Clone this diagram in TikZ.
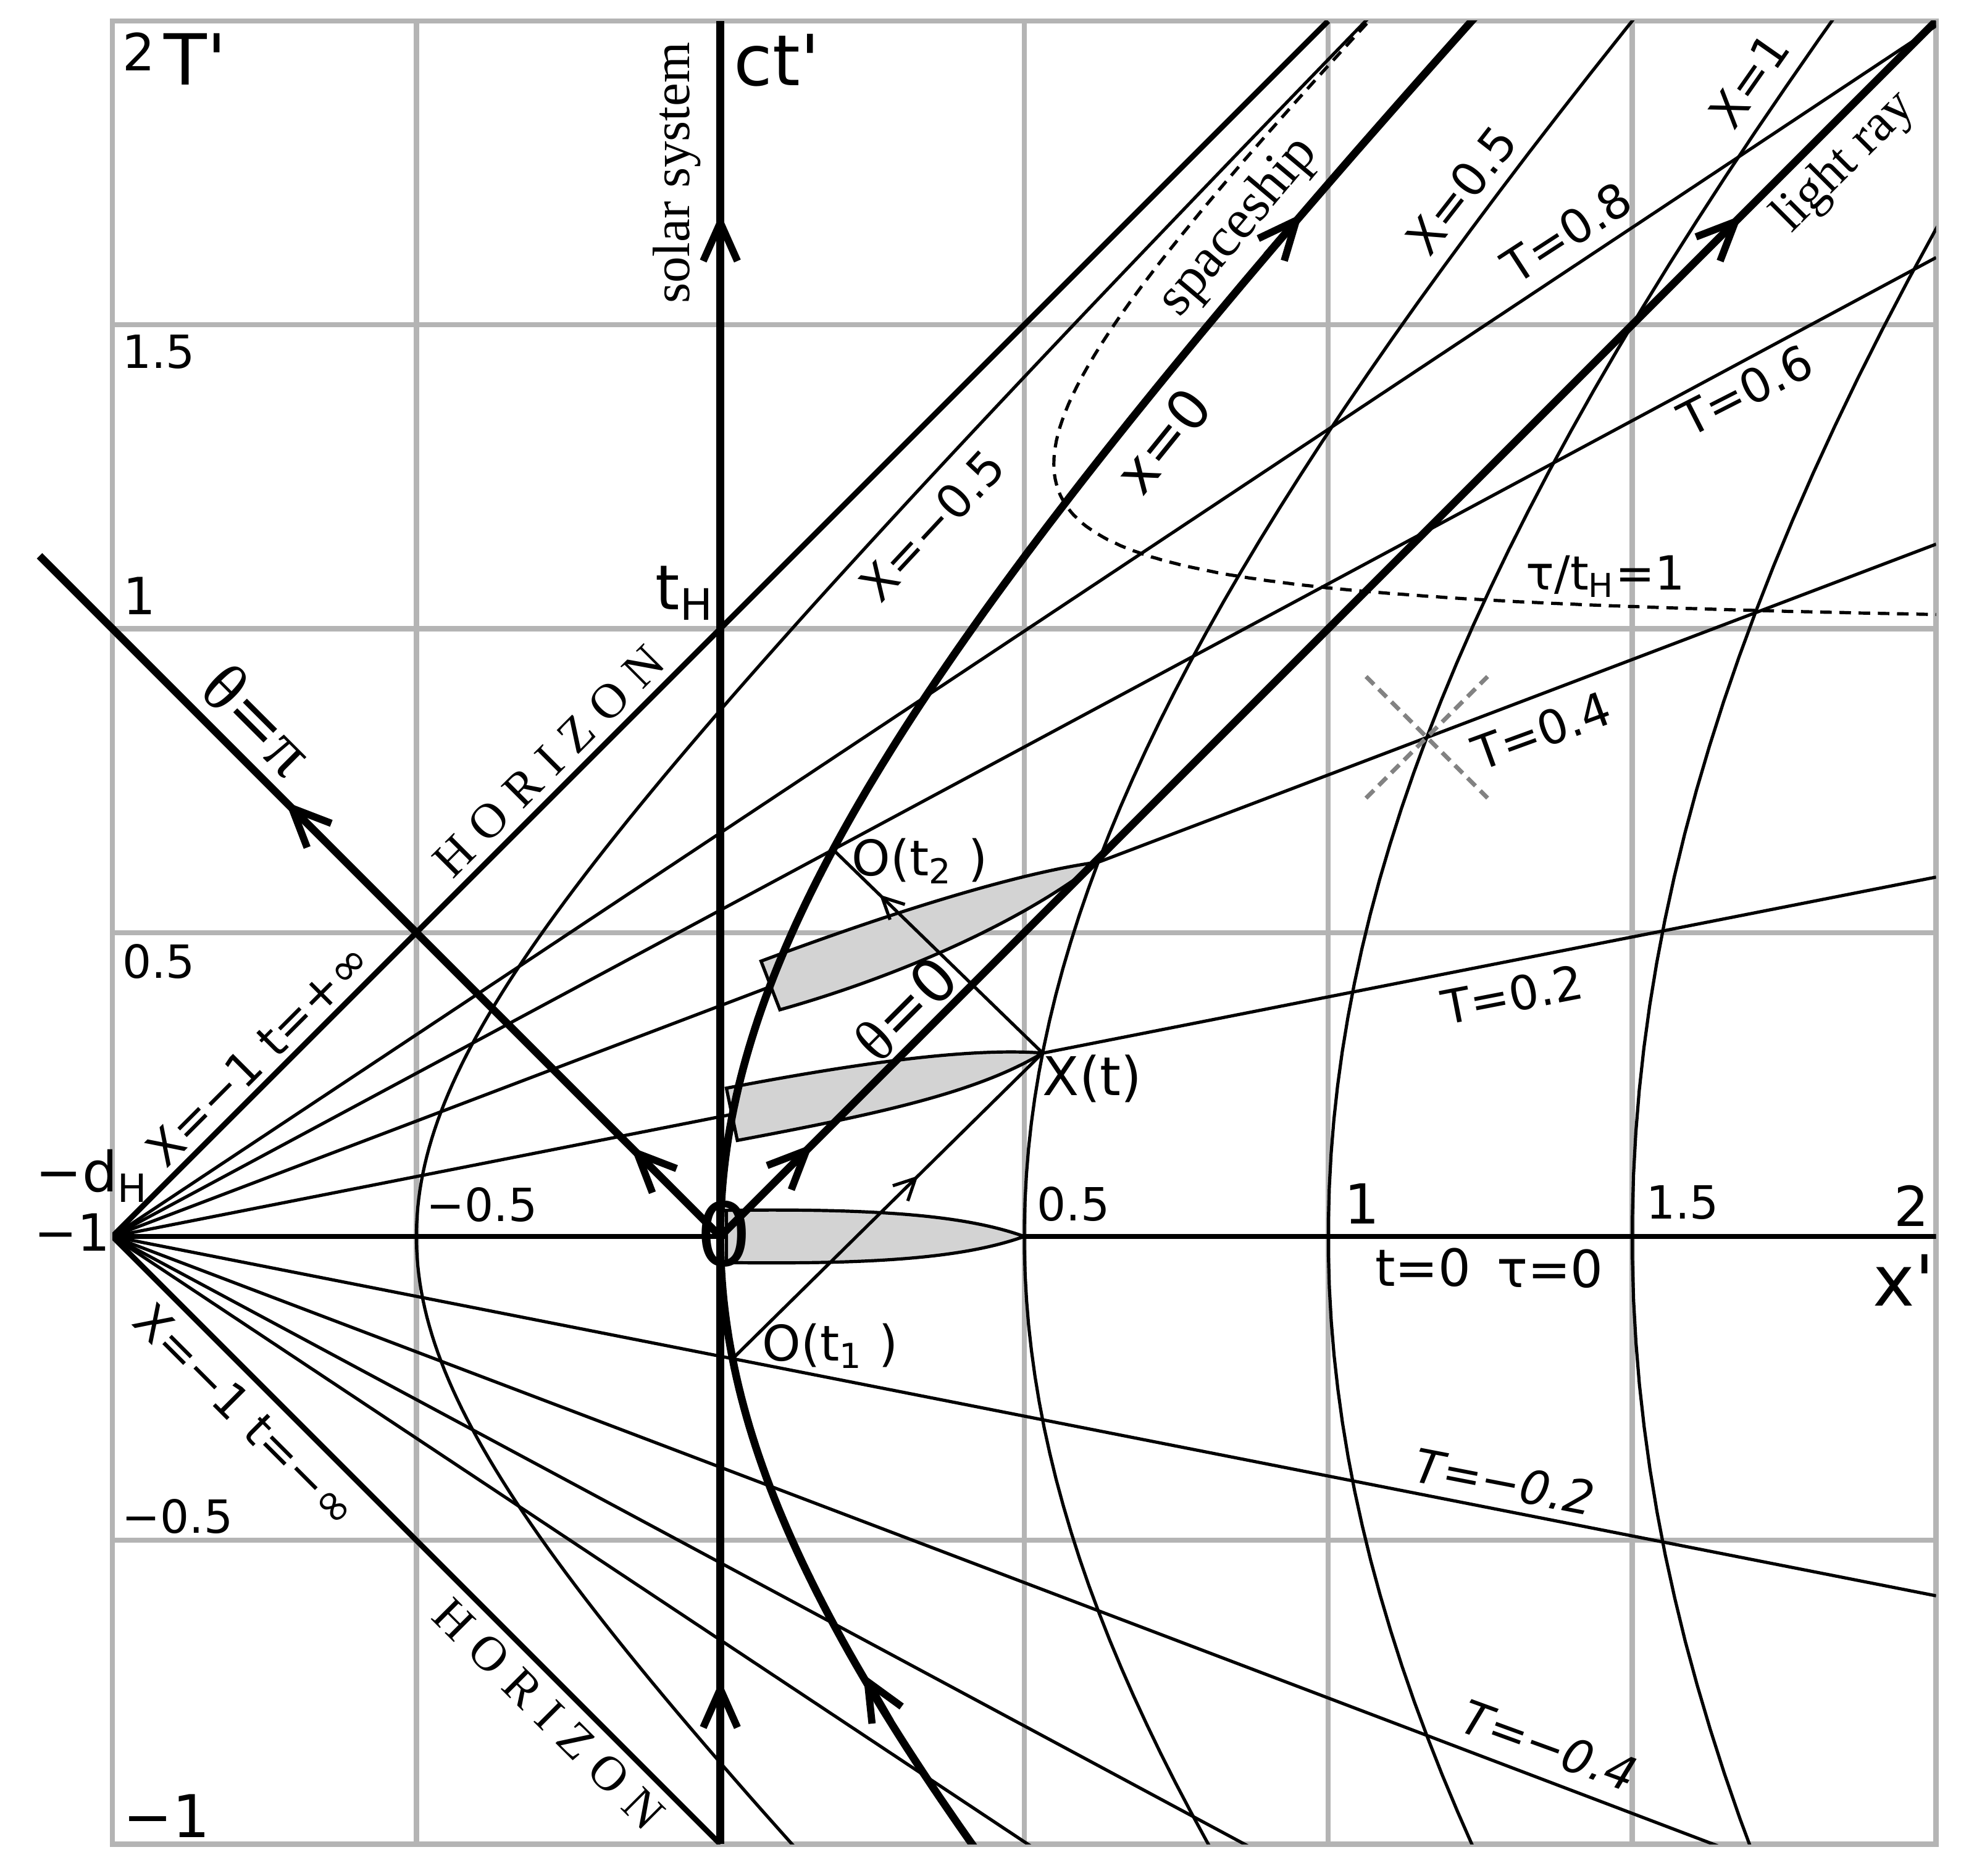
\documentclass[tikz,border=0pt]{standalone}
\usepackage{fontspec}
\setmainfont{DejaVu Sans}
\newfontfamily\seriffont{Liberation Serif}
\newfontfamily\horizonfont[LetterSpace=28]{Liberation Serif}
\usetikzlibrary{arrows.meta,decorations.markings}

\definecolor{gridgray}{RGB}{180,180,180}
\definecolor{lensgray}{RGB}{211,211,211}
\definecolor{conegray}{RGB}{130,130,130}

\newcommand{\pts}[1]{\fontsize{#1}{#1}\selectfont}

\tikzset{
  gridline/.style={gridgray, line width=1.2pt, line cap=rect},
  thinline/.style={line width=0.75pt},
  thickline/.style={line width=1.8pt},
  horizonline/.style={line width=1.3pt},
  bigtip/.style={-{Straight Barb[length=9pt,width=8pt]}, line width=1.7pt},
  smalltip/.style={decoration={markings,
      mark=at position #1 with {\arrow{Straight Barb[length=5pt,width=5pt]}}},
    postaction={decorate}},
  lens/.style={fill=lensgray, draw=black, line width=0.75pt},
  cone/.style={conegray, line width=1pt, dash pattern=on 2.6pt off 1.6pt},
  ticklabel/.style={inner sep=0pt, font=\pts{10.7}},
  biglabel/.style={inner sep=0pt, font=\pts{16.5}},
  rindlerlabel/.style={inner sep=0pt, font=\pts{11}},
  seriflabel/.style={inner sep=0pt, font=\seriffont\pts{12.3}},
}

\begin{document}
\begin{tikzpicture}[x=5cm,y=5cm]
    \useasboundingbox (-1.185,-1.052) rectangle (2.041,2.0345);

    % Draw the grid of the inertial frame
    \draw[gridline] (-1,-1) grid[step=0.5] (2,2);

    \begin{scope}
        \clip (-1,-1) rectangle (2,2);

        % Lines of constant Rindler time T, all through the corner (-1,0)
        \foreach \T in {-0.8,-0.6,-0.4,-0.2,0.2,0.4,0.6,0.8} {
            \draw[thinline] (-1,0) -- (2,{3*tanh(\T)});
        }
        \draw[line width=1.2pt] (-1,0) -- (2,0);

        % The ship at three moments (covers the T lines)
        \coordinate (tipA) at (0.5,0);
        \coordinate (Xt) at ({1.5*cosh(0.2)-1},{1.5*sinh(0.2)});
        \coordinate (tipC) at ({1.5*cosh(0.4)-1},{1.5*sinh(0.4)});
        \draw[lens] (0.01,0.043) .. controls (0.25,0.046) and (0.4,0.036) .. (tipA)
            .. controls (0.4,-0.036) and (0.25,-0.046) .. (0.01,-0.043) -- cycle;
        \draw[lens] (0.010,0.244) .. controls (0.25,0.29) and (0.42,0.31) .. (Xt)
            .. controls (0.42,0.235) and (0.25,0.20) .. (0.028,0.158) -- cycle;
        \draw[lens] (0.067,0.453) .. controls (0.3,0.54) and (0.5,0.60) .. (tipC)
            .. controls (0.5,0.52) and (0.3,0.43) .. (0.098,0.373) -- cycle;

        % Lines of constant X (hyperbolas)
        \foreach \r in {0.5,1.5,2,2.5} {
            \draw[thinline] plot[domain=-2.2:2.2, samples=160] ({\r*cosh(\x)-1},{\r*sinh(\x)});
        }
        % tau/t_H = 1
        \draw[thinline, dash pattern=on 2.7pt off 1.8pt]
            plot[domain=0.44:2.9, samples=200]
            ({\x*cosh((1+0.02/(\x*\x))/\x)-1},{\x*sinh((1+0.02/(\x*\x))/\x)});
        % spaceship x=0
        \draw[thickline] plot[domain=-1:1.5, samples=160] ({cosh(\x)-1},{sinh(\x)});

        % Horizons
        \draw[horizonline] (0,-1) -- (-1,0) -- (1,2);

        % Light ray and solar system
        \draw[thickline] (0,0) -- (2,2);
        \draw[thickline] (0,-1) -- (0,2);

        % Light signals between the ends of the ship
        \coordinate (Ot1) at ({cosh(-0.2)-1},{sinh(-0.2)});
        \coordinate (Ot2) at ({cosh(0.6)-1},{sinh(0.6)});
        \draw[thinline, smalltip=0.6] (Ot1) -- (Xt);
        \draw[thinline, smalltip=0.78] (Xt) -- (Ot2);

        % Light cone at X=1, T=0.4
        \coordinate (cone) at ({2*cosh(0.4)-1},{2*sinh(0.4)});
        \draw[cone] (cone) ++(-0.1,-0.1) -- ++(0.2,0.2);
        \draw[cone] (cone) ++(-0.1,0.1) -- ++(0.2,-0.2);
    \end{scope}

    % Light ray theta = pi
    \draw[thickline] (0,0) -- (-1.12,1.12);

    % Arrows along the world lines
    \draw[bigtip] (0,1.59) -- (0,1.683);
    \draw[bigtip] (0,-0.82) -- (0,-0.730);
    \draw[bigtip] (0.088,0.088) -- (0.152,0.152);
    \draw[bigtip] (1.615,1.615) -- (1.680,1.680);
    \draw[bigtip] (-0.083,0.083) -- (-0.147,0.147);
    \draw[bigtip] (-0.65,0.65) -- (-0.715,0.715);
    \draw[bigtip] (0.280,-0.798) -- (0.235,-0.720);
    \draw[bigtip] (0.898,1.614) -- (0.957,1.683);

    % Axis ticks and names
    \node[ticklabel, font=\pts{12}] (tickTtwo) at (-0.957,1.950) {2};
    \node[biglabel] (axisT) at (-0.864,1.937) {T\textquotesingle};
    \node[ticklabel] (tickTonehalf) at (-0.924,1.455) {1.5};
    \node[ticklabel, font=\pts{12}] (tickTone) at (-0.956,1.054) {1};
    \node[ticklabel] (tickThalf) at (-0.924,0.452) {0.5};
    \node[ticklabel] (tickTmhalf) at (-0.893,-0.461) {−0.5};
    \node[ticklabel, font=\pts{13.8}] (tickTmone) at (-0.911,-0.953) {−1};
    \node[ticklabel, font=\pts{12}] (tickXmone) at (-1.066,0.007) {−1};
    \node[ticklabel, font=\pts{13}] (dH) at (-1.033,0.0995) {−d\textsubscript{H}};
    \node[ticklabel, font=\pts{14.5}] (tH) at (-0.058,1.059) {t\textsubscript{H}};
    \node[biglabel] (axisct) at (0.093,1.935) {ct\textquotesingle};
    \node[biglabel] (axisx) at (1.947,-0.072) {x\textquotesingle};
    \node[ticklabel, font=\pts{20.5}] (origin) at (0.006,0.004) {0};
    \node[ticklabel] (tickXmhalf) at (-0.392,0.052) {−0.5};
    \node[ticklabel] (tickXhalf) at (0.581,0.053) {0.5};
    \node[ticklabel, font=\pts{12.9}] (tickXone) at (1.056,0.054) {1};
    \node[ticklabel] (tickXonehalf) at (1.583,0.056) {1.5};
    \node[ticklabel, font=\pts{12.9}] (tickXtwo) at (1.960,0.050) {2};
    \node[ticklabel, font=\pts{12}] (tzero) at (1.156,-0.051) {t=0};
    \node[ticklabel, font=\pts{12}] (tauzero) at (1.365,-0.053) {τ=0};

    % Rindler time labels
    \node[rindlerlabel, rotate=11] (Ta) at (1.303,0.398) {T=0.2};
    \node[rindlerlabel, rotate=20] (Tb) at (1.351,0.832) {T=0.4};
    \node[rindlerlabel, rotate=27] (Tc) at (1.686,1.392) {T=0.6};
    \node[rindlerlabel, rotate=33] (Td) at (1.392,1.652) {T=0.8};
    \node[rindlerlabel, font=\pts{11}\itshape, rotate=-11] (Tma) at (1.290,-0.404) {T=−0.2};
    \node[rindlerlabel, font=\pts{11}\itshape, rotate=-20] (Tmb) at (1.363,-0.838) {T=−0.4};

    % Rindler space labels and world lines
    \node[rindlerlabel, rotate=52] (Xhalf) at (1.219,1.722) {X=0.5};
    \node[rindlerlabel, rotate=55] (Xone) at (1.692,1.902) {X=1};
    \node[rindlerlabel, rotate=47] (Xmhalf) at (0.348,1.170) {X=−0.5};
    \node[rindlerlabel, font=\pts{13}, rotate=51] (xzero) at (0.728,1.310) {x=0};
    \node[seriflabel, font=\seriffont\pts{13}, rotate=50] (ship) at (0.853,1.661) {spaceship};
    \node[seriflabel, rotate=45] (ray) at (1.850,1.767) {light ray};
    \node[seriflabel, rotate=90] (solar) at (-0.072,1.750) {solar system};
    \node[inner sep=0pt, font=\horizonfont\pts{11.5}, rotate=45] (horizonup) at (-0.282,0.782) {HORIZON};
    \node[inner sep=0pt, font=\horizonfont\pts{11.5}, rotate=-45] (horizondown) at (-0.282,-0.786) {HORIZON};
    \node[rindlerlabel, rotate=45] (futureinf) at (-0.761,0.300) {X=−1 t=+∞};
    \node[rindlerlabel, rotate=-45] (pastinf) at (-0.780,-0.294) {X=−1 t=−∞};
    \node[inner sep=0pt, font=\pts{16}, rotate=-45] (thetapi) at (-0.761,0.850) {{\seriffont θ}={\seriffont π}};
    \node[inner sep=0pt, font=\pts{14}, rotate=45] (thetazero) at (0.304,0.375) {{\seriffont θ}=0};
    \node[rindlerlabel] (tauone) at (1.456,1.086) {τ/t\textsubscript{H}=1};

    % Events on the ship
    \node[inner sep=0pt, font=\pts{11.5}] (labelOt2) at (0.328,0.618) {O(t\textsubscript{2}\ )};
    \node[inner sep=0pt, font=\pts{12.5}] (labelXt) at (0.612,0.260) {X(t)};
    \node[inner sep=0pt, font=\pts{11.5}] (labelOt1) at (0.181,-0.180) {O(t\textsubscript{1}\ )};
\end{tikzpicture}
\end{document}
